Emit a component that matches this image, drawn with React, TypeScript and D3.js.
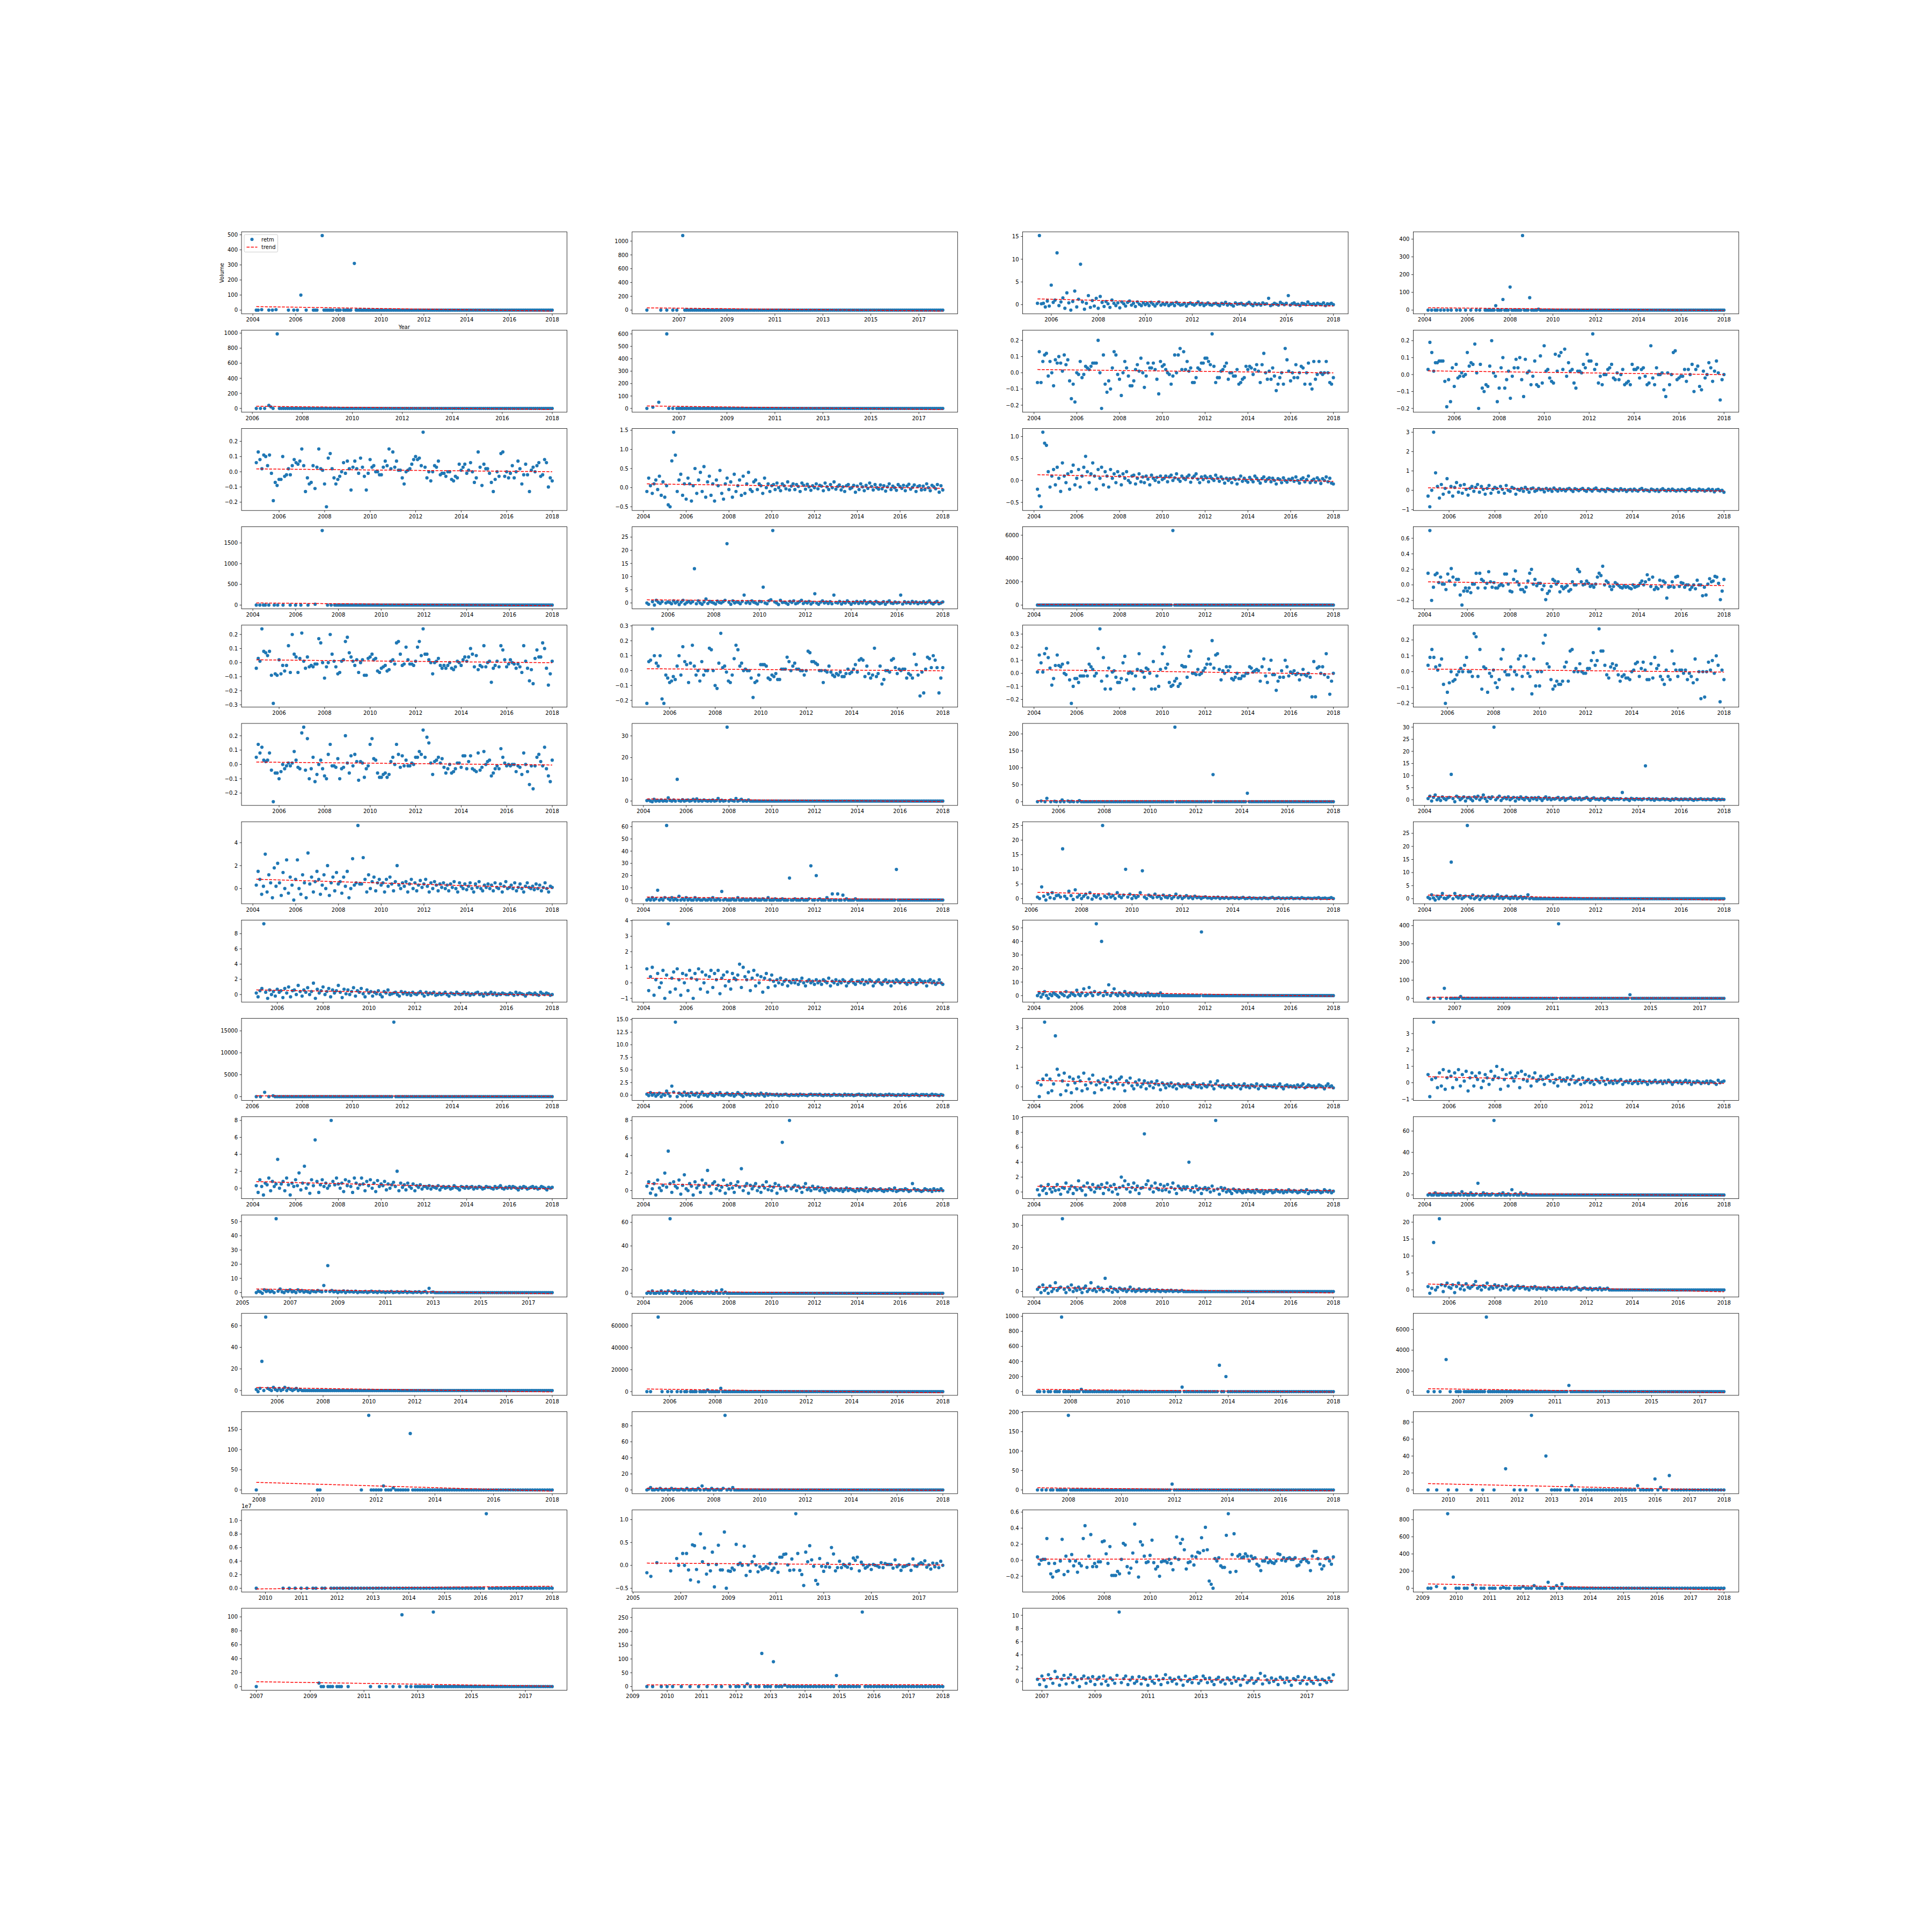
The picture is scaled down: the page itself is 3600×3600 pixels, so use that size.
import React from "react";
import * as d3 from "d3";

// figure layout (matplotlib 15x4 grid, 72 dpi)
const FIG = 3600;
const AX_LEFT = 450;
const AX_TOP = 432;
const AX_W = 606.5;
const AX_H = 152.8;
const COL_STEP = 727.8;
const ROW_STEP = 183.2;
const NCOL = 4;
const BLUE = "#1f77b4";

// every series ends in December 2017 (monthly, month-end dates)
const LAST_YEAR = 2017;
const LAST_MONTH = 11;

// x tick years
const ticksEven04 = [2004, 2006, 2008, 2010, 2012, 2014, 2016, 2018];
const ticksEven06 = [2006, 2008, 2010, 2012, 2014, 2016, 2018];
const ticksEven08 = [2008, 2010, 2012, 2014, 2016, 2018];
const ticksOdd05 = [2005, 2007, 2009, 2011, 2013, 2015, 2017];
const ticksOdd07 = [2007, 2009, 2011, 2013, 2015, 2017];
const ticksYear09 = [2009, 2010, 2011, 2012, 2013, 2014, 2015, 2016, 2017, 2018];
const ticksYear10 = [2010, 2011, 2012, 2013, 2014, 2015, 2016, 2017, 2018];

const xTicks = [
  ticksEven04, ticksOdd07, ticksEven06, ticksEven04,
  ticksEven06, ticksOdd07, ticksEven04, ticksEven06,
  ticksEven06, ticksEven04, ticksEven04, ticksEven06,
  ticksEven04, ticksEven06, ticksEven04, ticksEven04,
  ticksEven06, ticksEven06, ticksEven04, ticksEven06,
  ticksEven06, ticksEven04, ticksEven06, ticksEven04,
  ticksEven04, ticksEven04, ticksEven06, ticksEven04,
  ticksEven06, ticksEven04, ticksEven04, ticksOdd07,
  ticksEven06, ticksEven04, ticksEven04, ticksEven06,
  ticksEven04, ticksEven04, ticksEven04, ticksEven04,
  ticksOdd05, ticksEven04, ticksEven04, ticksEven06,
  ticksEven06, ticksEven06, ticksEven08, ticksOdd07,
  ticksEven08, ticksEven06, ticksEven08, ticksYear10,
  ticksYear10, ticksOdd05, ticksEven06, ticksYear09,
  ticksOdd07, ticksYear09, ticksOdd07,
];

const yTicks = [
  "0,100,200,300,400,500", "0,200,400,600,800,1000", "0,5,10,15", "0,100,200,300,400",
  "0,200,400,600,800,1000", "0,100,200,300,400,500,600", "-0.2,-0.1,0.0,0.1,0.2", "-0.2,-0.1,0.0,0.1,0.2",
  "-0.2,-0.1,0.0,0.1,0.2", "-0.5,0.0,0.5,1.0,1.5", "-0.5,0.0,0.5,1.0", "-1,0,1,2,3",
  "0,500,1000,1500", "0,5,10,15,20,25", "0,2000,4000,6000", "-0.2,0.0,0.2,0.4,0.6",
  "-0.3,-0.2,-0.1,0.0,0.1,0.2", "-0.2,-0.1,0.0,0.1,0.2,0.3", "-0.2,-0.1,0.0,0.1,0.2,0.3", "-0.2,-0.1,0.0,0.1,0.2",
  "-0.2,-0.1,0.0,0.1,0.2", "0,10,20,30", "0,50,100,150,200", "0,5,10,15,20,25,30",
  "0,2,4", "0,10,20,30,40,50,60", "0,5,10,15,20,25", "0,5,10,15,20,25",
  "0,2,4,6,8", "-1,0,1,2,3,4", "0,10,20,30,40,50", "0,100,200,300,400",
  "0,5000,10000,15000", "0.0,2.5,5.0,7.5,10.0,12.5,15.0", "0,1,2,3", "-1,0,1,2,3,4",
  "0,2,4,6,8", "0,2,4,6,8", "0,2,4,6,8,10", "0,20,40,60",
  "0,10,20,30,40,50", "0,20,40,60", "0,10,20,30", "0,5,10,15,20",
  "0,20,40,60", "0,20000,40000,60000", "0,200,400,600,800,1000", "0,2000,4000,6000",
  "0,50,100,150", "0,20,40,60,80", "0,50,100,150,200", "0,20,40,60,80",
  "0.0,0.2,0.4,0.6,0.8,1.0", "-0.5,0.0,0.5,1.0", "-0.2,0.0,0.2,0.4,0.6", "0,200,400,600,800",
  "0,20,40,60,80,100", "0,50,100,150,200,250", "0,2,4,6,8,10",
];

// panel 53 uses an offset ("1e7") on its y axis
const yTickFactor = [
  1, 1, 1, 1, 1, 1, 1, 1, 1, 1, 1, 1, 1, 1, 1, 1, 1, 1, 1, 1,
  1, 1, 1, 1, 1, 1, 1, 1, 1, 1, 1, 1, 1, 1, 1, 1, 1, 1, 1, 1,
  1, 1, 1, 1, 1, 1, 1, 1, 1, 1, 1, 1, 1e7, 1, 1, 1, 1, 1, 1,
];

// multiplier for the integers written in each series
const units = [
  1, 1, 0.1, 1, 1, 1, 0.01, 0.01, 0.01, 0.01, 0.01, 0.01, 1, 0.1, 1, 0.01, 0.01, 0.01, 0.01, 0.01,
  0.01, 0.1, 1, 0.1, 0.1, 1, 0.1, 0.1, 0.1, 0.1, 1, 1, 1, 0.1, 0.01, 0.01, 0.1, 0.1, 0.1, 1,
  0.1, 1, 0.1, 0.1, 1, 1, 1, 1, 1, 1, 1, 1, 1e5, 0.01, 0.01, 1, 1, 1, 0.1,
];

// monthly values, "_" = no value, "v*n" = n months at v
const retm01 = "0,0,_,3,_*3,0,_,0,_,3,_*6,0,_*2,0,_,0,_,100,_*2,0,_*3,0,0,0,_*2,495,0*6,_,0,0,0,_,0*5,_,310,0*111";
const retm02 = "0,_*6,0,_*2,0,_*2,0,_,0,_*2,1080,0*130";
const retm03 = "3,152,2,3,-5,8,-3,43,5,10,114,-2,6,15,-8,26,4,-12,7,30,-5,12,89,6,-10,3,20,-6,9,-3,14,-8,18,5,-4,7,2,-6,10,3,-2,4,-7,6,2,-3,5,8,-1,3,-4,6,1,-2,4,0,3,-2,5,1,-3,2,6,-1,2,0,4,-2,1,3,-2,5,2,-1,0,3,-3,2,4,1,-1,2,6,0,3,-2,1,4,0,-1,2,3,0,-2,3,1,5,-1,2,0,-3,4,1,2,3,0,-1,2,5,1,-2,3,0,2,-1,4,1,2,14,-2,0,3,1,-1,5,2,0,3,20,-1,2,4,0,1,-2,3,2,0,6,1,0,2,-1,3,1,0,4,-2,2,1,3,0";
const retm04 = "0,_,0,_,0,0,_,0,_,0,_,0,_,0,_,_,0,_,0,_,_,0,_,_,0,_,_,0,_,0,_,_,0,0,0,0,0,0,25,0,0,0,60,0,0,0,130,0,0,0,0,0,0,420,0,0,0,70,0,0,0,0,5,0*8,0*96";
const retm05 = "0,_,0,_,0,_,40,20,0,_,990,0*132";
const retm06 = "0,_,_,10,_,_,50,_*3,600,0,_,0,_,0,0,0*132";
const retm07 = "-6,13,-6,7,11,12,-2,7,0,-8,8,6,10,6,1,11,5,8,-5,-16,-7,-18,0,-1,7,-3,-1,4,3,2,4,6,6,6,20,0,-22,11,-7,-12,-5,-10,3,13,11,-1,-4,-14,0,7,3,-2,-8,-8,-5,2,5,1,9,0,-9,-2,6,3,3,6,2,-4,-13,7,4,5,2,0,-1,-7,-2,11,0,11,15,2,13,2,7,1,3,-6,-6,-3,3,2,6,6,9,9,7,5,24,4,-6,-3,-3,1,2,4,6,-4,0,0,-2,-2,2,-7,-6,-4,-3,4,2,4,3,-1,2,5,1,-6,5,12,0,-4,1,-4,3,-2,-11,-7,-3,0,-7,15,8,1,-5,0,-3,5,-3,0,4,3,-7,0,6,-7,-10,7,-4,-1,7,0,-1,0,7,0,-6,-7,-3";
const retm08 = "3,19,13,2,7,7,8,8,8,-4,-19,-3,-16,4,-7,6,-2,-1,1,-1,0,13,5,7,6,18,1,-20,6,-8,-10,-6,-7,5,20,1,-1,-16,-8,4,10,-8,-3,2,-14,-1,4,9,4,10,-3,-13,9,1,2,-6,-1,8,-6,-7,11,-5,17,2,3,-2,-4,-5,12,2,11,13,3,15,-1,7,2,3,-5,-8,2,2,1,6,4,12,8,8,24,3,6,-5,-1,-6,0,0,3,4,6,-2,-3,1,-3,0,3,-6,-5,-4,-6,6,3,3,4,-2,3,4,-1,-6,-5,17,-2,-6,4,0,0,1,-9,-13,1,-6,0,13,14,-3,-2,-1,-1,3,-4,3,0,6,-10,3,5,-7,-9,2,-2,0,7,4,-4,2,8,1,-15,-3,0";
const retm09 = "6,13,8,2,11,10,4,11,-1,-19,-7,-9,-5,-5,10,-3,-2,2,-2,4,8,6,5,7,15,4,-13,-4,-8,-7,4,-11,3,15,2,1,-8,-23,9,12,2,-4,-8,-5,-3,0,6,-1,7,2,-12,3,7,2,-1,9,3,-3,-12,-1,8,3,4,0,0,-2,-2,3,7,4,15,2,13,3,7,1,1,-4,-8,0,1,2,5,8,10,8,9,4,26,3,-4,0,-6,0,4,3,7,-2,-1,-1,-3,0,0,-5,-6,-3,-4,5,1,3,5,-1,1,6,0,-7,-4,13,3,-9,5,2,2,-1,-7,-13,-5,0,-3,12,13,-3,0,-4,-1,4,-4,0,7,2,-8,-2,5,-2,-13,1,3,0,4,6,-3,-2,8,6,-10,-4,-6";
const retm10 = "-10,25,5,-15,10,20,-5,30,-20,15,-25,5,-45,-50,70,145,85,-10,20,35,-20,10,-30,25,10,-35,5,50,-15,20,40,-10,55,-25,15,30,-20,10,-35,20,5,45,-15,-30,10,25,-5,15,-25,35,-10,5,20,-20,30,-15,10,40,-5,-10,15,20,-5,10,5,-15,25,0,10,-10,5,8,-5,12,0,-8,10,5,-3,15,-6,4,10,-5,8,3,-10,12,6,-4,9,2,-7,5,0,10,-3,6,4,-8,12,2,-5,8,0,15,-4,3,7,-6,2,-10,5,8,-3,0,6,-12,4,-5,10,2,-8,6,-2,12,3,-6,8,0,-4,7,-3,5,-9,2,10,-5,4,0,-7,8,3,-2,6,-8,4,9,-4,1,7,-10,3,5,-6,4,-5,10,0,-8,6,2,-3,8,-12,5,-6";
const retm11 = "-20,-35,-60,110,85,80,20,-15,10,25,-10,30,5,-25,40,10,-5,15,-20,20,35,-10,5,25,-15,10,30,55,20,-5,15,40,10,-20,25,5,30,-10,20,10,-15,25,5,15,-5,20,10,-10,15,5,20,0,-5,10,12,-8,5,15,-3,8,-5,10,3,-10,12,5,0,7,-4,10,2,5,10,-3,8,12,0,6,15,3,-2,10,5,2,8,12,-4,6,10,15,3,-5,8,2,10,6,-3,9,4,0,12,5,-2,8,3,-6,5,0,4,-5,6,2,-8,3,10,-2,5,0,-4,7,2,-3,10,5,0,-6,4,8,-2,3,6,-3,5,0,-8,4,2,-5,6,0,-4,3,1,5,-2,8,0,-6,3,6,-3,2,10,-5,0,3,-4,6,1,-7,4,0,8,-3,5,-6,-8";
const retm12 = "-30,-85,0,300,90,20,-40,30,-20,10,60,-10,20,-30,15,40,-10,25,-15,30,5,-25,10,20,-5,15,30,-10,20,5,-20,10,25,-15,5,15,10,-10,20,5,-15,25,0,-5,15,10,-20,5,0,10,-5,15,5,-10,8,12,-5,0,10,3,5,-8,10,0,6,-5,12,3,-4,8,0,5,-3,6,10,2,-6,8,4,-2,5,10,0,-5,8,3,-4,6,12,0,-3,5,2,-6,8,4,0,-5,6,3,-2,8,0,4,-6,2,5,-3,6,0,-4,5,10,-2,3,0,-5,6,2,-3,4,-6,2,8,0,-3,5,-2,6,0,-4,3,-2,5,0,-6,4,8,-3,2,0,-5,6,1,3,-4,0,6,-2,4,-8,2,5,-3,0,-10";
const retm13 = "0,_,0,_,0,0,_,0,_,_,0,_,0,_,_,0,_,_,_,0,_,_,0,_,_,0,_,_,_,0,_,_,_,20,_,_,_,1800,_,_,0,_,0,_,0,0,0,0*120";
const retm14 = "0,-5,_,5,-8,10,3,-2,5,_,0,4,2,-3,8,0,5,-6,3,10,-4,2,6,0,5,130,-3,8,0,-5,4,15,-2,6,3,0,-4,7,2,0,5,10,225,3,-5,8,0,4,2,-3,6,30,0,5,-2,8,3,0,-4,6,5,60,0,-3,8,12,275,4,0,-6,10,2,3,0,-5,6,2,8,-3,0,5,10,-2,4,0,6,-4,2,35,0,-5,3,8,0,4,-2,5,-3,30,2,0,6,-4,3,0,8,2,-5,3,0,6,-2,4,0,8,-3,2,5,0,-4,6,2,-3,0,5,-5,3,8,0,-2,4,0,2,30,-4,5,0,3,-2,6,0,4,-3,2,0,5,-2,3,8,0,-4,2,6,-3,0,4";
const retm15 = "0*76,6400,0*90";
const retm16 = "15,70,-20,-3,13,15,3,10,1,1,-6,14,5,21,10,0,7,7,-13,-26,-8,-4,-8,-4,-10,1,1,15,-4,15,7,5,-4,2,17,4,-3,3,-4,-4,-1,1,-1,14,14,1,-8,-9,7,18,4,0,-6,-6,-9,-3,5,15,20,1,7,-1,2,2,-6,-1,-19,-11,-8,-2,7,5,1,4,-9,-2,-5,-3,-1,-8,-6,4,0,0,20,17,4,0,1,5,2,-2,0,-3,1,10,15,12,24,0,5,3,-2,-6,-2,3,1,-1,-3,-4,-1,-3,-2,-4,-5,0,-3,-2,-1,2,5,0,4,13,7,-2,10,-6,-3,-5,6,-2,5,3,-17,-3,-2,4,-3,10,11,-2,3,2,-3,0,0,-6,-3,0,-5,6,0,0,-14,-3,-13,1,8,4,5,11,10,2,-19,-8,7";
const retm17 = "-4,3,1,24,8,7,5,8,-9,-29,-8,-9,2,-8,-2,-6,-2,12,-7,20,6,4,-7,3,21,1,-4,4,-3,-2,-3,-1,-1,17,14,0,-11,-3,0,20,6,1,-3,-8,-7,1,2,15,18,7,4,1,-2,2,-7,0,2,-9,-9,3,4,6,2,3,-6,-7,-4,-3,-2,-6,-5,1,2,-1,14,15,6,-2,-1,11,2,-1,-1,-2,1,11,15,5,24,6,6,2,0,-8,0,1,3,-2,-4,-2,-4,-2,0,-4,-5,-3,1,0,-2,2,4,1,4,10,6,-3,5,-5,-2,-3,12,-3,0,1,-14,-4,-2,1,-3,12,9,2,-3,-1,2,0,-1,-4,-1,-3,-7,12,1,-4,-13,-5,-15,3,9,4,4,14,10,-4,-16,-8,1";
const retm18 = "-22,6,7,28,10,5,3,10,-19,-22,-3,-5,-8,-7,-4,-6,3,10,-3,16,6,4,-8,5,17,3,-3,0,-7,6,-3,0,0,15,14,0,-10,-12,5,25,2,3,-1,-7,-8,-3,8,17,14,3,5,0,1,0,0,-5,-18,-8,-7,-3,4,4,4,3,-5,-6,-3,-4,-2,-6,-6,1,1,1,9,6,0,3,5,1,1,0,0,-3,0,13,12,6,6,5,4,0,0,-8,0,-1,3,-1,-3,-4,-2,-3,-1,-4,-4,-2,1,-2,-1,1,4,-1,7,8,7,-4,3,-2,-5,-3,15,-4,-2,3,-9,-6,0,0,-1,7,8,2,-2,1,0,1,1,-5,-2,-3,-5,11,4,-3,-17,-1,-15,1,9,8,2,10,7,2,-15,-5,2";
const retm19 = "1,14,8,1,15,19,12,4,-9,-4,6,14,6,5,7,0,-1,8,-5,-23,-10,-4,-4,-7,-2,-2,-2,2,-2,7,5,3,-2,0,19,34,-6,12,-12,-2,4,-12,1,2,-3,-7,-7,-4,8,13,-5,0,1,0,-12,-2,3,15,2,1,-3,4,3,0,-12,9,-12,-2,-10,3,15,20,4,7,-7,-10,-9,-6,-4,-10,-8,6,5,5,-3,13,17,0,0,-1,3,-1,0,2,4,7,11,7,25,4,14,15,3,-5,2,0,5,2,5,-4,-5,-3,0,-4,-4,-2,-2,0,0,5,4,1,2,3,2,-6,5,11,-2,-7,3,10,-1,-1,-13,-6,-3,2,-3,10,5,-2,1,0,2,-1,0,-5,-1,3,-1,-2,0,-3,-18,9,-18,4,5,0,5,-1,15,-3,-16,-6,0";
const retm20 = "4,9,14,9,3,1,4,8,-8,-20,-13,-7,0,-6,-5,-2,0,2,0,4,9,0,0,-3,24,22,-3,14,-11,3,2,-13,-1,-3,1,-7,-10,-5,8,14,0,-2,-2,3,-11,0,-2,8,10,-3,3,10,-1,-3,-14,8,-9,0,-9,0,18,23,5,3,-5,-11,-9,-6,-8,-8,-6,3,6,-6,13,14,0,2,0,5,0,-1,-1,2,2,7,12,4,7,27,13,13,4,-2,-4,3,5,2,4,-2,-6,-3,-2,-4,-4,-5,0,1,5,6,-3,2,6,1,-5,-5,5,-4,9,2,4,-3,-5,-8,1,-3,-5,13,5,1,-3,1,1,-1,1,-5,-1,-3,-7,8,-5,0,-17,0,-16,0,6,1,7,-1,10,4,-19,1,-5";
const retm21 = "5,14,8,12,3,2,3,8,-4,-26,-6,-6,-10,-5,0,-3,-1,1,-1,1,9,3,-2,-3,22,26,-4,18,-10,-3,5,-12,-7,0,3,-3,-8,-10,7,14,-1,-1,-2,4,-10,-3,-2,20,1,-6,6,-1,7,2,-11,2,1,-9,-3,-1,14,18,4,3,-6,-9,-9,-7,-6,-9,-7,2,5,0,14,7,-2,6,-1,3,-1,-1,1,0,5,5,9,7,24,5,19,15,1,-7,2,3,5,1,4,-2,-6,-3,0,-6,-5,-3,1,1,-2,6,6,-3,2,6,-3,-4,-5,8,-4,-2,9,0,2,3,-8,-6,-3,-1,-3,11,5,1,-1,0,-1,0,0,-5,-1,-2,-7,8,0,-5,-14,-1,-17,-1,5,7,2,-1,12,-3,-8,-12,3";
const retm22 = "2,5,0,-3,8,0,3,0,5,0,2,0,15,3,0,5,0,100,2,0,6,0,3,5,0,2,8,0,10,0,3,0,5,2,0,3,0,5,0,2,12,0,4,0,2,340,0,5,2,0,12,0,3,8,0,2,0,5,0,0*108";
const retm23 = "0,_,2,_,0,10,_,0,_,1,0,_,0,5,0,_,2,0,1,0,_,0,3,0,0*48,220,0*11,0*8,80,0*3,0*12,0,0,25,0*9,0*36";
const retm24 = "5,15,-5,10,20,0,8,-3,12,5,0,8,10,105,5,-8,15,10,0,6,12,-5,8,10,3,-4,12,6,15,0,8,20,5,-6,10,5,12,300,0,8,15,-3,6,10,4,12,0,6,10,-5,8,3,12,5,0,10,6,-3,8,4,8,0,10,5,-3,6,12,2,8,0,5,3,6,10,0,5,8,-2,4,6,10,3,0,5,2,8,0,4,6,10,3,-2,5,8,2,3,0,6,4,-2,5,8,2,0,6,3,4,2,5,30,0,4,2,-3,6,3,0,5,2,3,0,4,140,2,5,0,3,-2,4,2,0,2,4,0,3,1,-2,3,0,5,2,0,3,0,3,2,0,4,1,-2,3,0,2,4,1,2,0,3,1,0,4,2,-1,3,0,2,1";
const retm25 = "3,15,8,-5,2,30,-3,12,5,-8,18,2,22,5,-6,14,0,25,-4,10,3,-10,8,25,0,-5,12,5,-8,31,4,10,-3,6,15,8,-5,3,12,0,20,-6,5,10,-2,14,4,6,-4,10,2,15,-8,0,26,3,5,55,4,4,27,8,-3,12,0,6,10,-2,5,8,3,5,-3,8,2,10,4,-2,6,20,3,0,5,2,6,-3,4,8,0,5,-2,3,7,1,4,8,2,-3,5,0,6,3,-2,4,1,5,0,3,-2,4,1,6,0,-3,5,2,0,4,-1,2,5,0,-3,4,1,6,0,-2,3,1,4,0,3,-2,5,1,0,4,-3,2,6,0,1,3,0,5,-2,1,4,0,-3,2,5,1,0,2,-1,4,0,3,-2,1,5,0,-3,2,1";
const retm26 = "0,1,0,2,0,1,8,0,1,0,2,61,1,0,2,0,1,0,3,0,1,0,2,0,1,0,0,2,0,1,0,0,1,0,0,1,0,2,0,0,1,0,7,0,1,0,0,0,1,0,0,2,0,0,1,0,0,0,1,0,0,1,0,0,0,1,0,0,2,0,0,0,1,0,0,0,1,0,0,0,18,0,0,1,0,0,0,1,0,0,0,1,28,0,0,20,0,1,0,0,0,2,0,0,5,0,0,5,0,0,4,0,1,0,0,0,0,1,0,0*12,0*9,25,0,0,0*24";
const retm27 = "5,0,40,8,-5,15,3,20,0,10,12,5,170,8,0,25,10,-3,30,5,12,0,8,15,3,20,-2,10,5,12,0,250,8,3,15,5,10,0,20,8,3,12,100,5,15,0,10,3,8,20,95,5,0,12,8,3,15,5,8,0,12,5,3,10,0,6,15,3,8,0,5,10,2,6,0,8,3,5,0,4,6,2,3,0,4,2,5,0,3,1,4,0,2,3,1,3,0,2,4,0,1,3,0,2,1,0,2,0,3,1,0,2,4,0,1,3,0,2,0,2,1,3,0,1,2,0,3,1,0,2,1,0,2,1,3,0,1,2,0,1,3,0";
const retm28 = "5,0,15,3,-5,10,0,8,20,2,0,5,10,140,0,20,8,3,12,0,5,10,280,8,3,15,0,5,10,-3,6,12,0,5,8,3,10,0,6,15,2,8,0,5,10,3,0,6,2,10,0,4,8,0,5,3,15,0,4,0*108";
const retm29 = "2,-3,5,8,93,3,-5,6,0,4,-2,7,3,5,-4,8,2,10,-3,5,6,0,12,4,-2,6,3,9,0,4,15,-5,7,2,5,10,0,4,8,-3,6,2,5,12,3,-4,7,1,6,0,4,9,-2,5,3,8,1,-3,6,2,4,-2,3,1,5,0,-3,4,2,6,0,1,2,3,0,-2,4,1,3,0,2,-1,3,1,0,2,4,1,-2,3,0,2,1,3,-1,0,2,0,1,3,0,-2,2,1,0,3,1,0,1,3,0,2,-1,1,0,2,3,0,1,-2,2,0,1,3,0,2,-1,1,0,2,1,0,0,2,1,-1,3,0,2,1,0,-2,1,2,1,0,2,0,-1,3,1,0,2,1,-1,0";
const retm30 = "9,-5,4,10,-8,2,6,-3,0,8,-10,5,38,-6,3,7,-4,9,2,-8,6,0,5,-5,8,3,-10,6,2,9,-4,7,0,5,-6,4,8,-3,6,2,8,-7,3,5,-2,7,1,-4,6,3,2,5,12,-3,10,4,2,7,-5,3,8,-2,5,0,4,-6,3,6,-3,2,5,1,-2,2,0,3,-1,1,2,-2,1,0,2,0,2,-1,1,3,0,-2,1,2,0,1,-1,2,0,1,-1,2,1,0,3,-2,1,0,2,-1,1,0,2,1,-2,0,1,2,0,-1,1,1,0,2,-1,1,0,2,1,-2,0,1,2,0,-1,1,2,0,1,-2,1,0,2,1,0,1,2,0,-1,1,0,2,1,-1,0,2,1,0,1,-2,1,2,0,1,-1,0,2,0,-1";
const retm31 = "0,2,-1,1,3,0,-2,1,0,2,1,0,-1,2,1,0,3,-1,0,2,1,0,4,1,0,2,5,0,1,6,2,0,3,53,1,2,40,0,3,1,8,0,2,5,1,0,2,1,0,3,1,0,2,1,0,2,1,0,1,0,1,0,2,0,1,0,0,1,0,2,0,0*12,0*9,47,0,0,0*72";
const retm32 = "0,_,_,0,_,_,0,_,55,0,_,0,0,0,0,0,10,0*9,0*36,0,0,410,0*9,0*24,0,20,0*10,0*36";
const retm33 = "0,_,0,_,1000,_,0,_,200,0,0,0*48,0*7,17000,0*4,0*72";
const retm34 = "2,-1,5,0,3,-2,1,4,-3,2,0,8,3,-2,18,6,145,-3,4,2,-1,6,0,3,-2,5,1,0,4,-3,2,6,0,1,-2,2,4,0,-2,3,1,5,0,-1,2,4,1,0,3,-2,1,5,2,0,-3,4,1,2,0,3,1,-1,2,0,4,1,-2,3,0,2,1,1,0,2,-1,1,0,1,2,0,-1,1,0,0,1,-1,2,0,1,0,-1,1,2,0,1,1,0,2,0,-1,1,0,1,-1,0,2,0,0,1,0,-1,2,0,1,0,1,-1,0,1,2,0,1,0,-1,1,0,2,0,1,-1,0,1,0,-1,1,0,2,0,1,0,-1,1,0,0,2,0,1,-1,0,1,0,2,0,-1,1,1,0,1,-1,0,2,0,1,0,-1,1,0";
const retm35 = "20,-50,10,40,330,60,-30,40,-20,15,260,90,60,-40,30,70,-20,10,50,-30,40,20,-10,50,30,-20,70,10,-10,40,20,60,-30,10,30,20,-15,40,10,30,-5,50,20,-10,30,15,40,50,10,-20,30,20,45,5,-10,25,10,35,0,15,30,-10,20,5,25,-5,15,30,10,-15,20,10,-5,15,5,20,0,10,-10,15,5,0,10,5,15,0,-5,10,20,5,0,10,-5,15,5,0,10,25,5,-10,15,30,5,0,10,-5,5,10,0,-5,15,5,0,10,-10,5,15,0,5,-5,10,5,0,15,-10,5,10,0,-5,10,5,5,0,10,-5,5,15,0,-10,5,10,0,5,0,5,-5,10,0,5,15,-5,0,10,5,0,5,-5,0,10,5,0,-10,5,15,0,5,-5";
const retm36 = "50,-85,20,370,30,-30,60,-20,80,-40,30,70,40,-30,60,20,80,-20,50,10,70,-50,30,60,-20,40,20,60,-30,10,50,30,-10,70,20,40,100,30,-40,80,20,50,-20,60,30,10,40,60,-30,70,20,50,10,40,-20,30,60,10,20,40,20,-10,30,40,10,50,0,20,-20,30,10,20,10,30,-10,20,40,0,10,20,-10,30,0,10,20,0,10,-10,20,10,0,30,10,-10,20,0,10,-5,15,0,10,20,-10,5,10,0,15,-5,5,10,-5,15,0,10,5,-10,10,0,5,15,0,5,10,-5,10,0,15,5,-10,5,10,0,10,-5,5,15,0,10,-10,5,0,10,5,-5,5,0,10,-5,10,5,0,-10,15,0,5,10";
const retm37 = "3,-5,10,2,-8,6,4,12,-3,8,2,5,34,0,5,8,-3,12,4,-8,6,2,10,3,18,-2,6,26,0,5,-6,10,3,57,8,-5,4,10,2,6,0,3,80,8,4,12,5,0,6,-4,10,3,8,2,-5,12,6,0,4,12,5,-3,8,3,10,0,6,-4,9,2,5,3,8,-2,5,0,4,7,2,20,-3,6,1,4,-2,6,2,0,5,-3,3,1,4,-1,2,2,0,3,-1,2,1,0,3,-2,1,2,0,1,2,-1,0,3,1,0,-2,2,1,0,2,0,1,2,-1,1,0,2,1,-1,0,2,1,1,0,-1,2,0,1,3,0,-1,1,0,2,0,2,1,0,-2,1,0,2,1,-1,0,1,2,0,1,-1,0,2,1,0,-2,1,0,1";
const retm38 = "5,10,-3,2,8,-5,12,3,0,6,20,4,45,8,-2,10,5,3,12,-4,6,18,2,0,8,5,-5,10,3,6,-2,12,4,8,23,5,-3,8,10,2,6,0,4,12,-3,6,2,8,3,-2,6,10,4,25,0,5,8,-3,6,2,5,8,0,4,-2,6,3,10,1,5,0,4,8,-3,6,2,55,3,0,5,80,2,4,6,0,5,3,-2,4,8,1,3,0,5,2,2,4,0,3,1,-2,2,0,3,1,0,2,1,0,2,-1,1,3,0,2,1,0,-1,2,0,2,1,0,3,-1,1,0,2,1,0,1,2,0,-1,1,0,2,1,0,3,-1,0,1,1,0,2,1,-1,0,8,2,0,1,0,-1,0,2,1,0,1,-1,2,0,1,0,2,0";
const retm39 = "3,-4,8,2,5,-2,10,4,0,6,2,10,3,-3,6,5,12,0,4,8,-2,6,3,15,5,2,8,-4,12,6,3,10,0,5,8,5,10,-2,6,12,3,8,0,10,4,-3,6,20,8,15,4,10,0,6,12,3,8,-2,5,6,78,10,15,4,8,0,12,5,3,10,2,8,3,10,0,6,12,4,-2,8,5,3,7,4,7,40,2,6,0,8,3,5,-2,4,6,3,5,0,8,2,96,4,-3,6,2,5,0,3,1,-2,4,2,0,3,1,-1,2,0,3,1,0,2,-1,3,1,0,2,-2,1,0,2,2,-1,0,3,1,0,2,-1,1,0,3,1,0,2,1,-1,0,2,1,0,3,-2,1,0,1,0,2,1,-1,0,3,1,0,2,-1,1";
const retm40 = "0,1,0,0,2,0,0,1,0,0,0,1,0,0,2,0,0,1,0,3,0,1,0,0,2,0,0,1,11,0,0,2,0,1,0,0,1,70,0,0,1,0,2,0,0,1,0,5,0,1,0,0,2,0,0,1,0,0,0,0*108";
const retm41 = "0,10,5,-5,20,8,15,5,10,0,520,10,25,5,0,15,8,20,5,10,0,20,8,15,3,10,5,0,12,8,5,15,10,5,50,10,190,8,15,5,10,0,8,5,12,0,10,5,8,3,10,0,6,5,3,8,0,5,10,2,6,0,8,3,5,0,5,2,8,0,3,6,0,4,2,8,0,5,3,0,5,2,6,0,3,8,0,30,2,4,0*60";
const retm42 = "0,1,0,2,0,0,1,0,2,0,1,0,2,63,1,0,2,0,1,0,0,2,0,1,0,0,2,0,1,0,0,1,0,0,1,0,1,0,0,2,0,0,3,0,1,0,0,0*120";
const retm43 = "10,20,-5,30,5,15,-8,25,0,12,40,5,15,20,330,10,-5,20,8,30,0,15,5,20,10,-5,15,25,0,10,40,5,12,0,20,8,15,0,60,10,5,20,-3,12,8,0,15,10,5,12,0,8,20,3,10,0,5,12,2,5,8,0,6,10,2,5,0,8,3,0,6,3,0,5,2,6,0,3,4,0,2,5,0,0*84";
const retm44 = "10,-10,5,140,0,8,210,15,-5,12,20,8,5,15,-8,10,20,3,12,0,18,8,5,10,15,25,5,10,0,12,8,20,3,10,5,15,8,12,0,10,5,15,3,8,10,0,6,12,5,8,10,3,6,0,8,5,10,2,6,4,3,6,0,8,4,2,6,0,5,3,8,2,4,2,6,0,3,5,8,2,0,4,6,3,2,5,0,3,4,1,6,0,3,2,5,0,0*60";
const retm45 = "1,-1,2,27,0,68,2,1,0,3,1,0,2,0,1,3,0,2,1,0,1,2,0,1,0*132";
const retm46 = "0,_,0,_,_,_,68000,_,0,_,_,0,_,0,_,_,0,_,0,_,0,0,_,0,0,0,0,_,0,0,0,0,1500,0,0,0,0,0,0,3000,0*9,0*108";
const retm47 = "0,0,_,0,_,0,0,_,0,0,0,990,0,0,0,0,0,0,0,0,30,0*7,0*36,0,0,60,0*9,0*7,350,0,0,200,0,0*48";
const retm48 = "0,_,_,0,_,_,0,_,_,3100,_,0,_,_,0,0,0,_,0*10,0,7200,0*10,0*24,0*6,600,0*5,0*72";
const retm49 = "0,_*24,0,0,_*16,0,_*2,185,0,0,0,0,0,10,0,0,0,5,0,0,0,0,0,0,140,0*10,0*48";
const retm50 = "0,1,3,0,0,1,0,2,0,0,1,0,0,2,0,1,0,0,1,0,0,2,0,0,1,0,0,2,0,5,0,1,0,0,2,0,0,1,0,0,2,93,0,1,0,3,0,0,0*108";
const retm51 = "0,_,0,_,0,_,0,0,_,0,0,0,0,0,192,0*12,0*24,0*10,15,0,0*72";
const retm52 = "0,_,_,0,_,_,_,0,_,_,0,_,_,_,_,0,_,_,_,0,_,_,_,0,_,_,_,25,_,_,0,_,0,_,0,_,88,_,0,_,_,40,_,0,0,0,0,_,0,0,5,0,0,_,0,0,0*12,0,0,0,0,0,5,0,0,0,0,0,13,0,3,0,0,17,0*7,0*12";
const retm53 = "0,_,_,_,_,_,_,_,_,0,_,0,_,0,_,0,_,0,_,0,0,_,0,0,_,0,0,0,0*12,0*36,0,110,0*10,0*12";
const retm54 = "-16,_,-24,_,_,6,_*6,-12,_,_,15,0,_,26,0,26,-10,-32,45,43,-9,-36,69,8,38,-19,2,-12,29,-47,2,44,-10,-10,73,-50,-12,-13,-6,-10,46,2,5,0,42,-22,1,-13,8,20,1,-14,-3,-9,-7,-3,-6,4,-11,-6,4,-15,18,18,24,25,1,-11,14,-10,113,26,-11,-20,-44,29,8,43,12,-2,-33,-41,15,-2,-13,-3,4,-4,39,25,-12,-5,9,-5,2,-1,-4,3,-7,16,11,18,-12,7,1,-6,-3,1,-9,2,0,-1,-4,6,-5,4,2,2,2,-6,12,-3,1,-11,-3,-2,0,2,-11,14,-1,-2,3,6,3,10,-4,1,-8,5,-3,4,-5,9,0";
const retm55 = "4,-5,0,1,1,27,-4,-17,-21,-4,-14,-13,-1,26,-18,5,-14,-1,7,-7,-1,-15,-4,-7,27,43,-9,5,32,-8,-4,-8,-2,-2,23,24,8,-4,17,-19,-19,-19,-14,-17,1,21,19,-8,-16,-10,9,45,-2,-21,23,19,5,-3,-2,6,25,-3,-11,-8,-20,-2,-1,-1,-3,1,-4,-12,3,29,1,21,26,13,-11,-3,-2,5,-6,4,10,9,28,12,41,13,-26,-30,-35,2,-1,3,-7,-9,-9,31,58,-15,7,33,-14,5,7,3,4,8,5,-1,5,2,3,-5,-7,-13,-1,-1,3,-3,-1,-3,-4,-1,8,7,0,3,-1,2,3,1,1,3,-7,-6,-2,1,2,-1,-3,-13,5,11,11,2,-5,-11,-7,2,3,-1,-5,4";
const retm56 = "0,0,_,20,_,_,0,870,_,130,0,0,_,0,0,_,40,0,_,0,0,_,0,0,0,_,0,10,0,0,_,0,0,0,20,0,0,0,30,0,0,0,0,70,0,0,30,0,50,0*10,0*48";
const retm57 = "0,_*27,5,0,0,_,0,0,0,_,0,0,0,_,_,0,_*7,_,_,0,_,_,_,0,_,_,0,_,_,0,_,_,0,103,_,0,_,0,_,0,0,0,0,0,0,0,0,107,0,0,0,0,0,0*48";
const retm58 = "0,_,0,_,_,0,_,0,_,0,_,_,0,_,_,0,_,_,0,_,_,0,_,_,0,_,0,_,_,0,_,0,0,_,0,10,0,_,0,0,120,0,0,0,90,0,0,0,5,0,0,0,0,0,0,0,0*10,40,0,0*7,270,0*4,0*24";
const retm59 = "3,-5,8,2,-8,10,4,-3,15,6,-6,3,9,-4,5,10,-2,6,2,-8,4,8,-3,5,0,7,-5,3,6,-4,8,0,-6,5,2,-3,9,105,-2,4,8,-5,2,6,-3,0,7,-4,5,3,-6,6,0,-3,8,2,-5,4,10,-2,5,0,3,-4,6,2,-6,8,0,3,-2,5,7,-3,1,8,4,-2,5,0,-5,3,6,-1,2,-4,5,2,-3,6,0,4,-6,3,8,-2,1,5,-3,0,4,12,-4,8,2,-2,5,0,3,-5,6,3,-2,5,0,-6,4,2,7,-3,1,6,-4,4,0,-3,6,2,-5,3,1,-2,5,0,10";

const seriesList = [
  retm01, retm02, retm03, retm04, retm05, retm06, retm07, retm08, retm09, retm10,
  retm11, retm12, retm13, retm14, retm15, retm16, retm17, retm18, retm19, retm20,
  retm21, retm22, retm23, retm24, retm25, retm26, retm27, retm28, retm29, retm30,
  retm31, retm32, retm33, retm34, retm35, retm36, retm37, retm38, retm39, retm40,
  retm41, retm42, retm43, retm44, retm45, retm46, retm47, retm48, retm49, retm50,
  retm51, retm52, retm53, retm54, retm55, retm56, retm57, retm58, retm59,
];

const parseSeries = (s: string, unit: number): (number | null)[] => {
  const out: (number | null)[] = [];
  s.split(",").forEach((tok) => {
    const [v, rep] = tok.trim().split("*");
    const n = rep ? +rep : 1;
    for (let i = 0; i < n; i++) out.push(v === "_" ? null : +v * unit);
  });
  return out;
};

const minus = (s: string) => s.replace("-", "\u2212");

type Pt = { date: Date; t: number; v: number };

function Panel({ idx }: { idx: number }) {
  const values = parseSeries(seriesList[idx], units[idx]);
  const n = values.length;
  const endIdx = LAST_YEAR * 12 + LAST_MONTH;
  const pts: Pt[] = [];
  values.forEach((v, i) => {
    if (v === null) return;
    const mi = endIdx - (n - 1 - i);
    const yr = Math.floor(mi / 12);
    const mo = mi % 12;
    const date = new Date(yr, mo + 1, 0);
    pts.push({ date, t: yr + (mo + 1) / 12, v });
  });

  const t0 = pts[0].date.getTime();
  const t1 = pts[pts.length - 1].date.getTime();
  const xPad = (t1 - t0) * 0.05;
  const x = d3.scaleTime().domain([t0 - xPad, t1 + xPad]).range([0, AX_W]);

  const [vMin, vMax] = d3.extent(pts, (p) => p.v) as [number, number];
  const yPad = (vMax - vMin) * 0.05;
  const y = d3.scaleLinear().domain([vMin - yPad, vMax + yPad]).range([AX_H, 0]);

  // least squares trend
  const mt = d3.mean(pts, (p) => p.t) as number;
  const mv = d3.mean(pts, (p) => p.v) as number;
  const sxy = d3.sum(pts, (p) => (p.t - mt) * (p.v - mv));
  const sxx = d3.sum(pts, (p) => (p.t - mt) * (p.t - mt));
  const slope = sxy / sxx;
  const first = pts[0];
  const last = pts[pts.length - 1];
  const trendAt = (t: number) => mv + slope * (t - mt);

  const [dx0, dx1] = x.domain().map((d) => d.getTime());
  const xt = xTicks[idx]
    .map((yr) => new Date(yr, 0, 1))
    .filter((d) => d.getTime() >= dx0 && d.getTime() <= dx1);

  const [dy0, dy1] = y.domain();
  const factor = yTickFactor[idx];
  const yt = yTicks[idx]
    .split(",")
    .map((lab) => ({ lab, v: parseFloat(lab) * factor }))
    .filter((d) => d.v >= dy0 && d.v <= dy1);

  const col = idx % NCOL;
  const row = Math.floor(idx / NCOL);
  const left = AX_LEFT + col * COL_STEP;
  const top = AX_TOP + row * ROW_STEP;

  return (
    <g transform={`translate(${left},${top})`}>
      {pts.map((p, i) => (
        <circle key={i} cx={x(p.date)} cy={y(p.v)} r={3.1} fill={BLUE} />
      ))}
      <line
        x1={x(first.date)}
        y1={y(trendAt(first.t))}
        x2={x(last.date)}
        y2={y(trendAt(last.t))}
        stroke="#ff0000"
        strokeWidth={1.5}
        strokeDasharray="5.55 2.4"
      />
      <rect x={0} y={0} width={AX_W} height={AX_H} fill="none" stroke="#000" strokeWidth={0.8} />
      {xt.map((d, i) => (
        <g key={i} transform={`translate(${x(d)},${AX_H})`}>
          <line y1={0} y2={3.5} stroke="#000" strokeWidth={0.8} />
          <text y={14.5} textAnchor="middle">
            {d.getFullYear()}
          </text>
        </g>
      ))}
      {yt.map((d, i) => (
        <g key={i} transform={`translate(0,${y(d.v)})`}>
          <line x1={0} x2={-3.5} stroke="#000" strokeWidth={0.8} />
          <text x={-7} dy="0.36em" textAnchor="end">
            {minus(d.lab)}
          </text>
        </g>
      ))}
      {factor !== 1 && (
        <text x={0} y={-4}>
          1e7
        </text>
      )}
      {idx === 0 && (
        <g>
          <text transform={`translate(-37,${AX_H / 2}) rotate(-90)`} textAnchor="middle" dy="0.36em">
            Volume
          </text>
          <text x={AX_W / 2} y={AX_H + 28.3} textAnchor="middle">
            Year
          </text>
          <rect x={5} y={5} width={62.6} height={32.7} rx={2.5} fill="#fff" fillOpacity={0.8} stroke="#cccccc" strokeWidth={1} />
          <circle cx={19.5} cy={14} r={3.1} fill={BLUE} />
          <text x={37} y={14} dy="0.36em">
            retm
          </text>
          <line x1={9.5} x2={29.5} y1={28.6} y2={28.6} stroke="#ff0000" strokeWidth={1.5} strokeDasharray="5.55 2.4" />
          <text x={37} y={28.6} dy="0.36em">
            trend
          </text>
        </g>
      )}
    </g>
  );
}

export default function App() {
  return (
    <svg
      width={FIG}
      height={FIG}
      viewBox={`0 0 ${FIG} ${FIG}`}
      style={{ position: "absolute", left: 0, top: 0, background: "#fff" }}
      fontFamily="DejaVu Sans"
      fontSize={10}
      fill="#000"
    >
      <rect width={FIG} height={FIG} fill="#fff" />
      {seriesList.map((_, i) => (
        <Panel key={i} idx={i} />
      ))}
    </svg>
  );
}
